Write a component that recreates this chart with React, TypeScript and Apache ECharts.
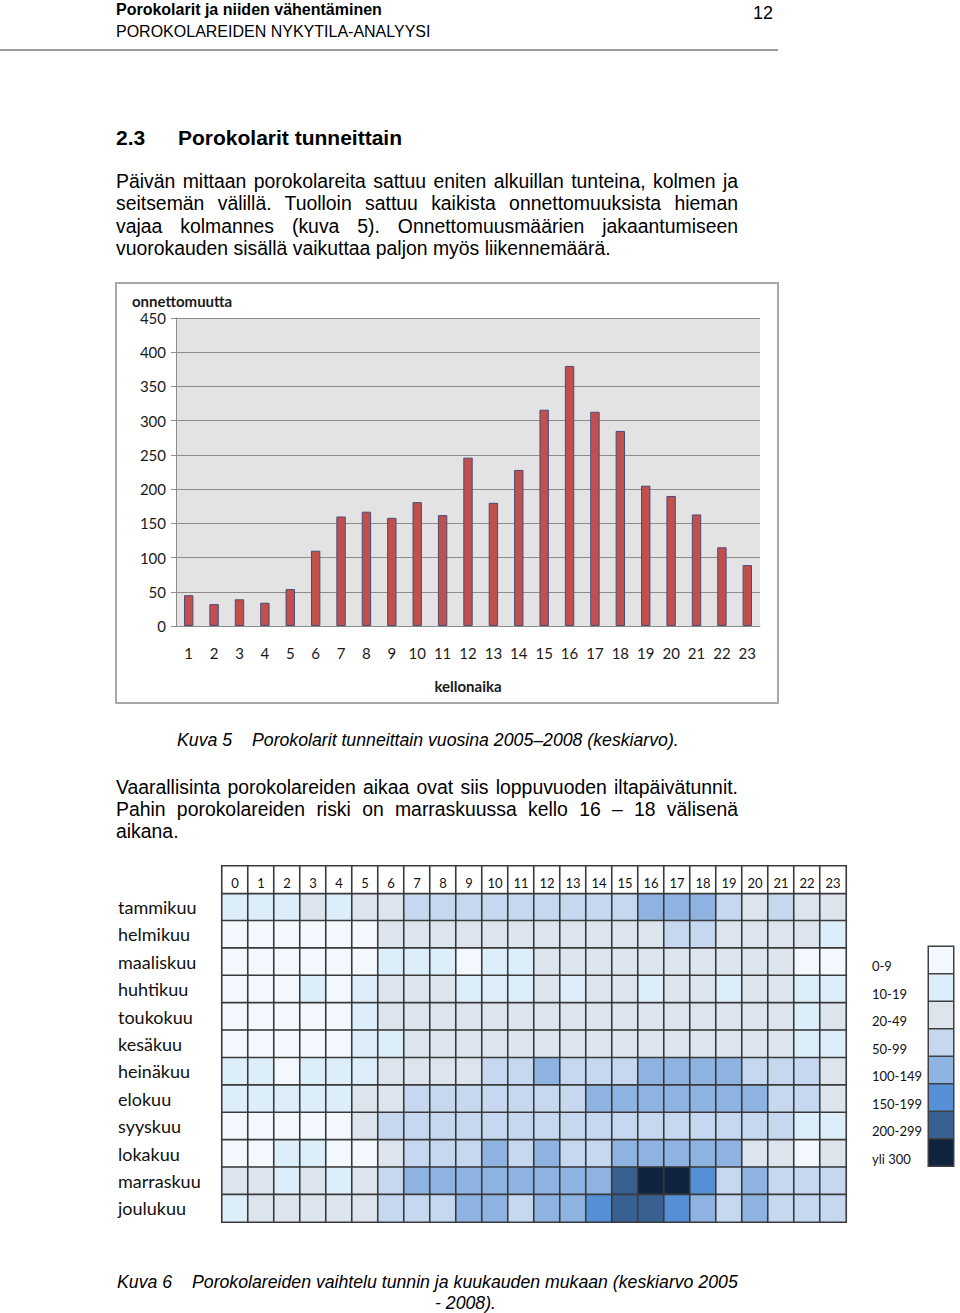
import React, { useEffect, useRef } from "react";
import * as echarts from "echarts";

// ---------- Data: bar chart (Kuva 5) ----------
const HOURS = ["1","2","3","4","5","6","7","8","9","10","11","12","13","14","15","16","17","18","19","20","21","22","23"];
const ACCIDENTS = [45, 32, 39, 34, 54, 110, 160, 167, 158, 181, 162, 246, 180, 228, 316, 380, 313, 285, 205, 190, 163, 115, 89];
const Y_MAX = 450;
const Y_STEP = 50;

// ---------- Data: heatmap (Kuva 6) ----------
const HEAT_HOURS = ["0","1","2","3","4","5","6","7","8","9","10","11","12","13","14","15","16","17","18","19","20","21","22","23"];
const MONTHS = ["tammikuu","helmikuu","maaliskuu","huhtikuu","toukokuu","kesäkuu","heinäkuu","elokuu","syyskuu","lokakuu","marraskuu","joulukuu"];
const tammikuu = [15,15,15,35,15,35,35,75,75,75,75,75,75,75,75,75,125,125,125,75,35,75,35,35];
const helmikuu = [5,5,5,5,5,5,35,35,35,35,35,35,35,35,35,35,35,75,75,35,35,35,35,15];
const maaliskuu = [5,5,5,5,5,5,15,15,15,5,15,15,35,35,35,35,35,35,35,35,35,35,5,5];
const huhtikuu = [5,5,5,15,5,15,35,35,35,15,15,15,35,15,35,35,15,35,35,15,35,35,15,15];
const toukokuu = [5,5,5,5,5,15,35,35,35,35,35,35,35,35,35,35,35,35,35,35,35,35,15,35];
const kesakuu = [5,5,5,5,5,15,15,35,35,35,35,35,35,35,35,35,35,35,35,35,35,35,15,15];
const heinakuu = [15,15,5,15,15,15,35,35,35,35,75,75,125,75,75,75,125,125,125,125,75,75,75,35];
const elokuu = [15,15,15,15,15,35,35,75,75,75,75,75,75,75,125,125,125,125,125,125,125,75,75,35];
const syyskuu = [5,5,5,5,5,35,75,75,75,75,75,75,75,75,75,75,75,75,75,75,75,75,15,15];
const lokakuu = [5,5,15,15,5,5,35,75,75,75,125,75,125,75,75,125,125,125,125,125,35,35,5,35];
const marraskuu = [35,35,15,35,15,35,75,125,125,125,125,125,125,125,125,250,320,320,175,75,125,75,75,75];
const joulukuu = [15,35,35,35,35,35,75,75,75,125,125,75,125,125,175,250,250,175,125,75,125,75,75,75];
const MONTH_VALUES = [tammikuu, helmikuu, maaliskuu, huhtikuu, toukokuu, kesakuu, heinakuu, elokuu, syyskuu, lokakuu, marraskuu, joulukuu];

const CLASS_LABELS = ["0-9","10-19","20-49","50-99","100-149","150-199","200-299","yli 300"];
const CLASS_LOWER = [0, 10, 20, 50, 100, 150, 200, 300];
const CLASS_COLORS = ["#f2f8fd","#ddeefb","#dce4ee","#c5d8ef","#8eb3e1","#5590d6","#386192","#10243f"];

// ---------- Layout ----------
const CHART_FONT = "Lato, 'Open Sans', sans-serif";
const DOC_FONT = "'Liberation Sans', Arial, sans-serif";
const LEGEND_X = 929;
const LEGEND_TOP = 947;
const LEGEND_STEP = 27.5;

function buildOption() {
  const heatData: any[] = [];
  MONTH_VALUES.forEach((row, m) => {
    row.forEach((v, h) => heatData.push([h, m + 1, v]));
  });
  const headerData = HEAT_HOURS.map((_, h) => [h, 0, 0]);

  const pieces = CLASS_LOWER.map((lo, i) => {
    const p: any = { gte: lo, color: CLASS_COLORS[i], label: CLASS_LABELS[i] };
    if (i < CLASS_LOWER.length - 1) p.lt = CLASS_LOWER[i + 1];
    return p;
  });

  const legendTexts = CLASS_LABELS.map((t, i) => ({
    type: "text",
    x: 872,
    y: LEGEND_TOP + i * LEGEND_STEP + LEGEND_STEP / 2 + 5.5,
    style: { text: t, font: `13px ${CHART_FONT}`, fill: "#111", verticalAlign: "middle" },
  }));

  return {
    animation: false,
    textStyle: { fontFamily: CHART_FONT },
    graphic: [
      {
        type: "rect",
        shape: { x: 116, y: 283, width: 662, height: 420 },
        style: { fill: "none", stroke: "#a8a8a8", lineWidth: 2 },
        z: 0,
      },
      {
        type: "text",
        x: 132,
        y: 301,
        style: { text: "onnettomuutta", font: `bold 15px ${CHART_FONT}`, fill: "#1a1a1a", verticalAlign: "middle" },
        z: 10,
      },
      ...legendTexts,
    ],
    grid: [
      { left: 176, top: 318, width: 584, height: 308, show: true, backgroundColor: "#e3e3e3", borderWidth: 0 },
      { left: 222, top: 866, width: 624, height: 356 },
    ],
    xAxis: [
      {
        gridIndex: 0,
        type: "category",
        data: HOURS,
        axisLine: { lineStyle: { color: "#8c8c8c" } },
        axisTick: { length: 5, lineStyle: { color: "#8c8c8c" } },
        axisLabel: { margin: 19, fontSize: 15, color: "#1a1a1a" },
        name: "kellonaika",
        nameLocation: "middle",
        nameGap: 52,
        nameTextStyle: { fontWeight: "bold", fontSize: 15, color: "#1a1a1a" },
      },
      { gridIndex: 1, type: "category", data: HEAT_HOURS, show: false },
    ],
    yAxis: [
      {
        gridIndex: 0,
        type: "value",
        min: 0,
        max: Y_MAX,
        interval: Y_STEP,
        axisLine: { show: true, lineStyle: { color: "#8c8c8c" } },
        axisTick: { show: true, length: 5, lineStyle: { color: "#8c8c8c" } },
        splitLine: { lineStyle: { color: "#8c8c8c" } },
        axisLabel: { fontSize: 15, margin: 10, color: "#1a1a1a" },
      },
      {
        gridIndex: 1,
        type: "category",
        data: ["", ...MONTHS],
        inverse: true,
        axisLine: { show: false },
        axisTick: { show: false },
        splitLine: { show: false },
        axisLabel: { align: "left", margin: 104, fontSize: 18, color: "#111" },
      },
    ],
    visualMap: [
      {
        type: "piecewise",
        seriesIndex: 1,
        pieces,
        orient: "vertical",
        inverse: true,
        itemSymbol: "rect",
        itemWidth: 24,
        itemHeight: 26,
        itemGap: 1.5,
        showLabel: false,
        left: LEGEND_X - 1.5,
        top: LEGEND_TOP - 1.5,
        padding: 1.5,
        backgroundColor: "#404040",
        selectedMode: false,
      },
      {
        type: "continuous",
        show: false,
        seriesIndex: 2,
        min: 0,
        max: 1,
        inRange: { color: ["#ffffff", "#ffffff"] },
      },
    ],
    series: [
      {
        type: "bar",
        xAxisIndex: 0,
        yAxisIndex: 0,
        data: ACCIDENTS,
        barWidth: "37%",
        itemStyle: { color: "#c0504d", borderColor: "#4b4b78", borderWidth: 1 },
      },
      {
        type: "heatmap",
        xAxisIndex: 1,
        yAxisIndex: 1,
        data: heatData,
        itemStyle: { borderColor: "#3a3a3a", borderWidth: 1.6 },
      },
      {
        type: "heatmap",
        xAxisIndex: 1,
        yAxisIndex: 1,
        data: headerData,
        itemStyle: { color: "#ffffff", borderColor: "#3a3a3a", borderWidth: 1.6 },
        label: {
          show: true,
          formatter: (p: any) => HEAT_HOURS[p.value[0]],
          fontSize: 13,
          color: "#111",
          offset: [0, 3.5],
        },
      },
    ],
  };
}

const abs = (extra: React.CSSProperties): React.CSSProperties => ({
  position: "absolute",
  fontFamily: DOC_FONT,
  color: "#000",
  whiteSpace: "nowrap",
  margin: 0,
  ...extra,
});

const justified = (top: number, text: string, size: number, lh: number, last = false) => (
  <div
    style={abs({
      left: 116,
      top,
      width: 622,
      fontSize: size,
      lineHeight: `${lh}px`,
      textAlign: last ? "left" : "justify",
      textAlignLast: last ? "left" : "justify",
      whiteSpace: "normal",
    })}
  >
    {text}
  </div>
);

export default function App() {
  const ref = useRef<HTMLDivElement>(null);
  useEffect(() => {
    if (!ref.current) return;
    const chart = echarts.init(ref.current, null, { renderer: "svg" });
    chart.setOption(buildOption() as any);
    return () => chart.dispose();
  }, []);

  return (
    <div style={{ position: "absolute", left: 0, top: 0, width: 960, height: 1313, background: "#fff", overflow: "hidden" }}>
      <div ref={ref} style={{ position: "absolute", left: 0, top: 0, width: 960, height: 1313 }} />
      <div style={{ position: "absolute", left: 0, top: 0, width: 960, height: 1313, pointerEvents: "none" }}>
        <div style={abs({ left: 116, top: 0, fontSize: 16, lineHeight: "20px", fontWeight: "bold" })}>Porokolarit ja niiden vähentäminen</div>
        <div style={abs({ left: 116, top: 21.5, fontSize: 16, lineHeight: "20px" })}>POROKOLAREIDEN NYKYTILA-ANALYYSI</div>
        <div style={abs({ left: 753, top: 1.5, fontSize: 18, lineHeight: "22px" })}>12</div>
        <div style={{ position: "absolute", left: 0, top: 49, width: 778, height: 2, background: "#9a9a9a" }} />

        <div style={abs({ left: 116, top: 125, fontSize: 21, lineHeight: "26px", fontWeight: "bold" })}>2.3</div>
        <div style={abs({ left: 178, top: 125, fontSize: 21, lineHeight: "26px", fontWeight: "bold" })}>Porokolarit tunneittain</div>

        {justified(170, "Päivän mittaan porokolareita sattuu eniten alkuillan tunteina, kolmen ja", 19.4, 22.3)}
        {justified(192.3, "seitsemän välillä. Tuolloin sattuu kaikista onnettomuuksista hieman", 19.4, 22.3)}
        {justified(214.6, "vajaa kolmannes (kuva 5). Onnettomuusmäärien jakaantumiseen", 19.4, 22.3)}
        {justified(237, "vuorokauden sisällä vaikuttaa paljon myös liikennemäärä.", 19.4, 22.3, true)}

        <div style={abs({ left: 177, top: 730, fontSize: 17.7, lineHeight: "21px", fontStyle: "italic" })}>Kuva 5</div>
        <div style={abs({ left: 252, top: 730, fontSize: 17.7, lineHeight: "21px", fontStyle: "italic" })}>Porokolarit tunneittain vuosina 2005–2008 (keskiarvo).</div>

        {justified(776, "Vaarallisinta porokolareiden aikaa ovat siis loppuvuoden iltapäivätunnit.", 19.4, 22.3)}
        {justified(798, "Pahin porokolareiden riski on marraskuussa kello 16 – 18 välisenä", 19.4, 22.3)}
        {justified(820, "aikana.", 19.4, 22.3, true)}

        <div style={abs({ left: 117, top: 1272, fontSize: 17.7, lineHeight: "21px", fontStyle: "italic" })}>Kuva 6</div>
        <div style={abs({ left: 192, top: 1272, fontSize: 17.7, lineHeight: "21px", fontStyle: "italic" })}>Porokolareiden vaihtelu tunnin ja kuukauden mukaan (keskiarvo 2005</div>
        <div style={abs({ left: 435, top: 1293, fontSize: 17.7, lineHeight: "21px", fontStyle: "italic" })}>- 2008).</div>
      </div>
    </div>
  );
}
